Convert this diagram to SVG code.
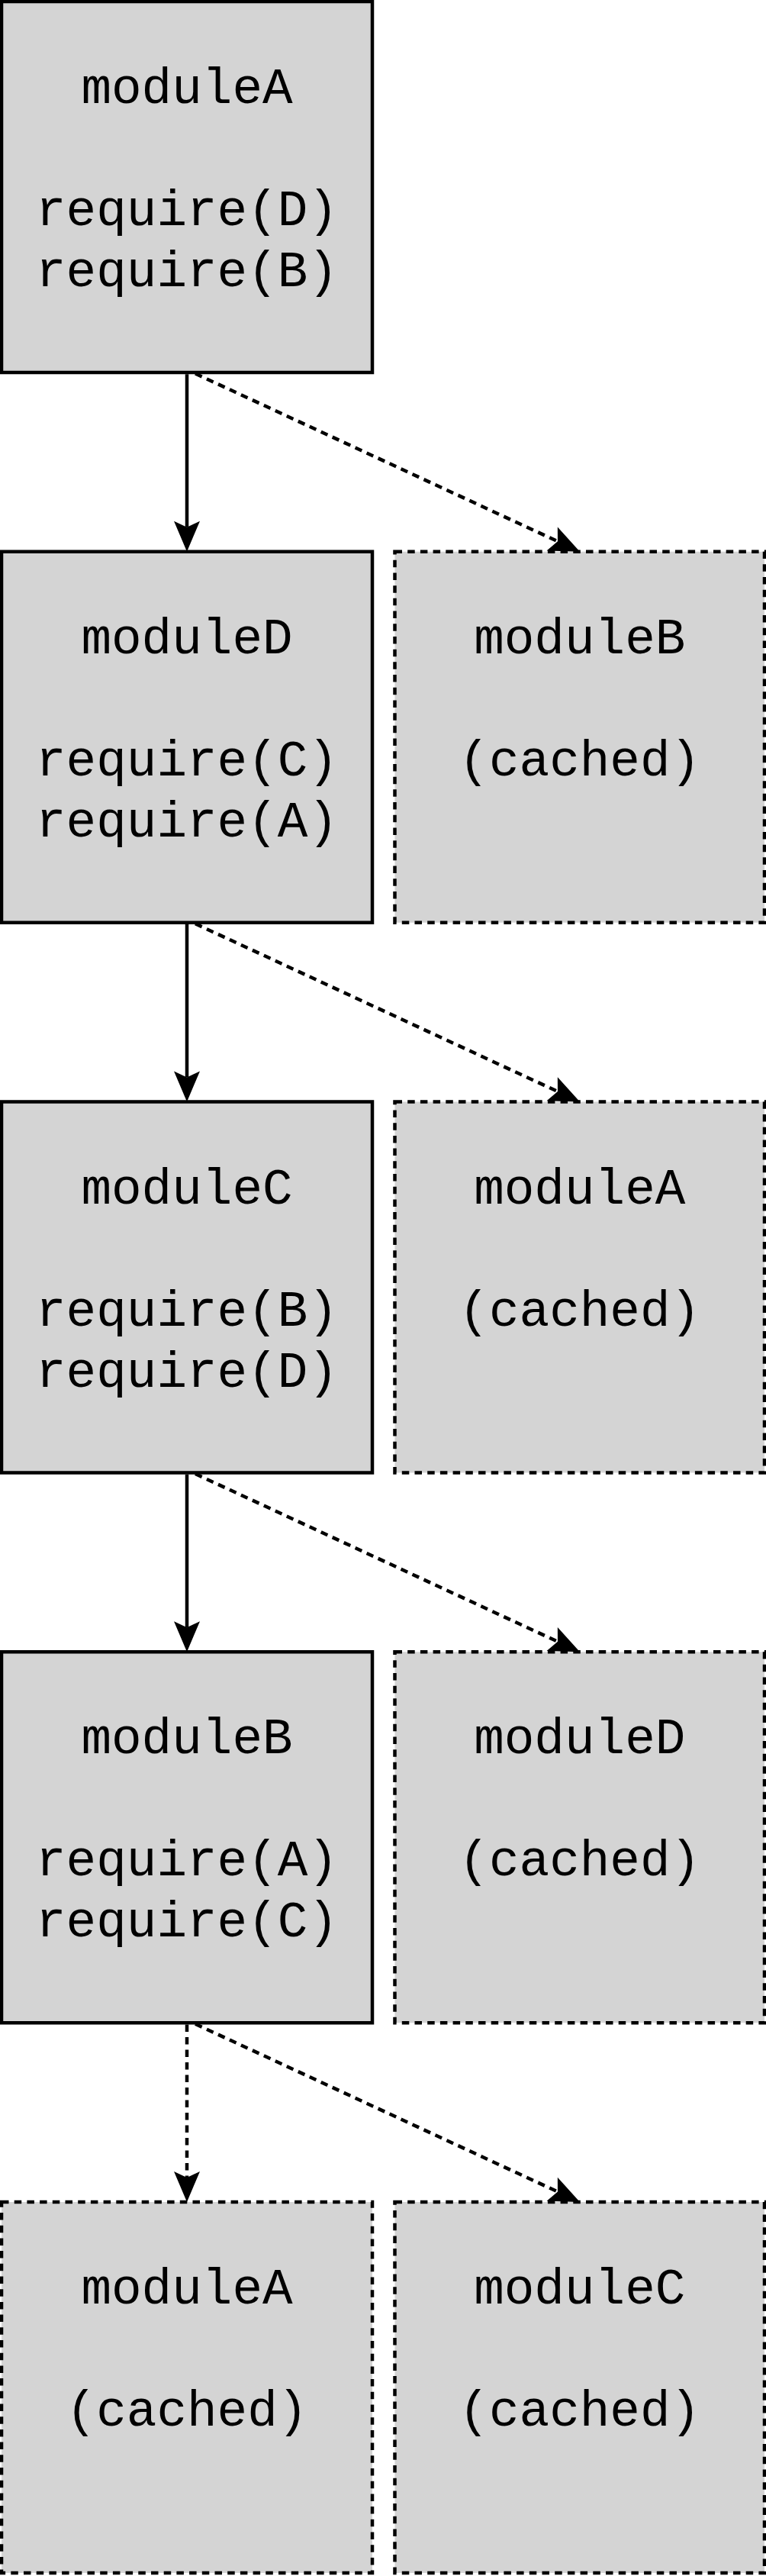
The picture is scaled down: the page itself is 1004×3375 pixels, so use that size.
<svg xmlns="http://www.w3.org/2000/svg" width="1004" height="3375" viewBox="0 0 1004 3375">
<style>
.box{fill:#d4d4d4;stroke:#000;stroke-width:4.5}
.cached{stroke-dasharray:9.5 7.2}
.t{font-family:"Liberation Mono","DejaVu Sans Mono",monospace;font-size:66px;fill:#000;text-anchor:middle}
.e{fill:none;stroke:#000;stroke-width:4.5;marker-end:url(#ah)}
.d{stroke-dasharray:9.5 7}
</style>
<defs>
<marker id="ah" markerUnits="userSpaceOnUse" orient="auto" overflow="visible" refX="0" refY="0" markerWidth="1" markerHeight="1">
<path d="M32,0 L-8,-17 L0,0 L-8,17 Z" fill="#000" stroke="none"/>
</marker>
</defs>
<g id="moduleA">
<rect class="box" x="2" y="2" width="486" height="486"/>
<text class="t" x="245" y="135">moduleA</text>
<text class="t" x="245" y="295">require(D)</text>
<text class="t" x="245" y="375">require(B)</text>
</g>
<g id="moduleD">
<rect class="box" x="2" y="722.75" width="486" height="486"/>
<text class="t" x="245" y="855.75">moduleD</text>
<text class="t" x="245" y="1015.75">require(C)</text>
<text class="t" x="245" y="1095.75">require(A)</text>
</g>
<g id="moduleB_cached_1">
<rect class="box cached" x="517.5" y="722.75" width="484.5" height="486"/>
<text class="t" x="759.75" y="855.75">moduleB</text>
<text class="t" x="759.75" y="1015.75">(cached)</text>
</g>
<g id="moduleC">
<rect class="box" x="2" y="1443.5" width="486" height="486"/>
<text class="t" x="245" y="1576.5">moduleC</text>
<text class="t" x="245" y="1736.5">require(B)</text>
<text class="t" x="245" y="1816.5">require(D)</text>
</g>
<g id="moduleA_cached_1">
<rect class="box cached" x="517.5" y="1443.5" width="484.5" height="486"/>
<text class="t" x="759.75" y="1576.5">moduleA</text>
<text class="t" x="759.75" y="1736.5">(cached)</text>
</g>
<g id="moduleB">
<rect class="box" x="2" y="2164.25" width="486" height="486"/>
<text class="t" x="245" y="2297.25">moduleB</text>
<text class="t" x="245" y="2457.25">require(A)</text>
<text class="t" x="245" y="2537.25">require(C)</text>
</g>
<g id="moduleD_cached">
<rect class="box cached" x="517.5" y="2164.25" width="484.5" height="486"/>
<text class="t" x="759.75" y="2297.25">moduleD</text>
<text class="t" x="759.75" y="2457.25">(cached)</text>
</g>
<g id="moduleA_cached_2">
<rect class="box cached" x="2" y="2885" width="486" height="486"/>
<text class="t" x="245" y="3018">moduleA</text>
<text class="t" x="245" y="3178">(cached)</text>
</g>
<g id="moduleC_cached">
<rect class="box cached" x="517.5" y="2885" width="484.5" height="486"/>
<text class="t" x="759.75" y="3018">moduleC</text>
<text class="t" x="759.75" y="3178">(cached)</text>
</g>
<g id="connectors">
<path class="e" d="M245,490.25 L245,690.75"/>
<path class="e d" d="M256,489.5 L730.96,709.31"/>
<path class="e" d="M245,1211 L245,1411.5"/>
<path class="e d" d="M256,1210.25 L730.96,1430.06"/>
<path class="e" d="M245,1931.75 L245,2132.25"/>
<path class="e d" d="M256,1931 L730.96,2150.81"/>
<path class="e d" d="M245,2652.5 L245,2853"/>
<path class="e d" d="M256,2651.75 L730.96,2871.56"/>
</g>
</svg>
